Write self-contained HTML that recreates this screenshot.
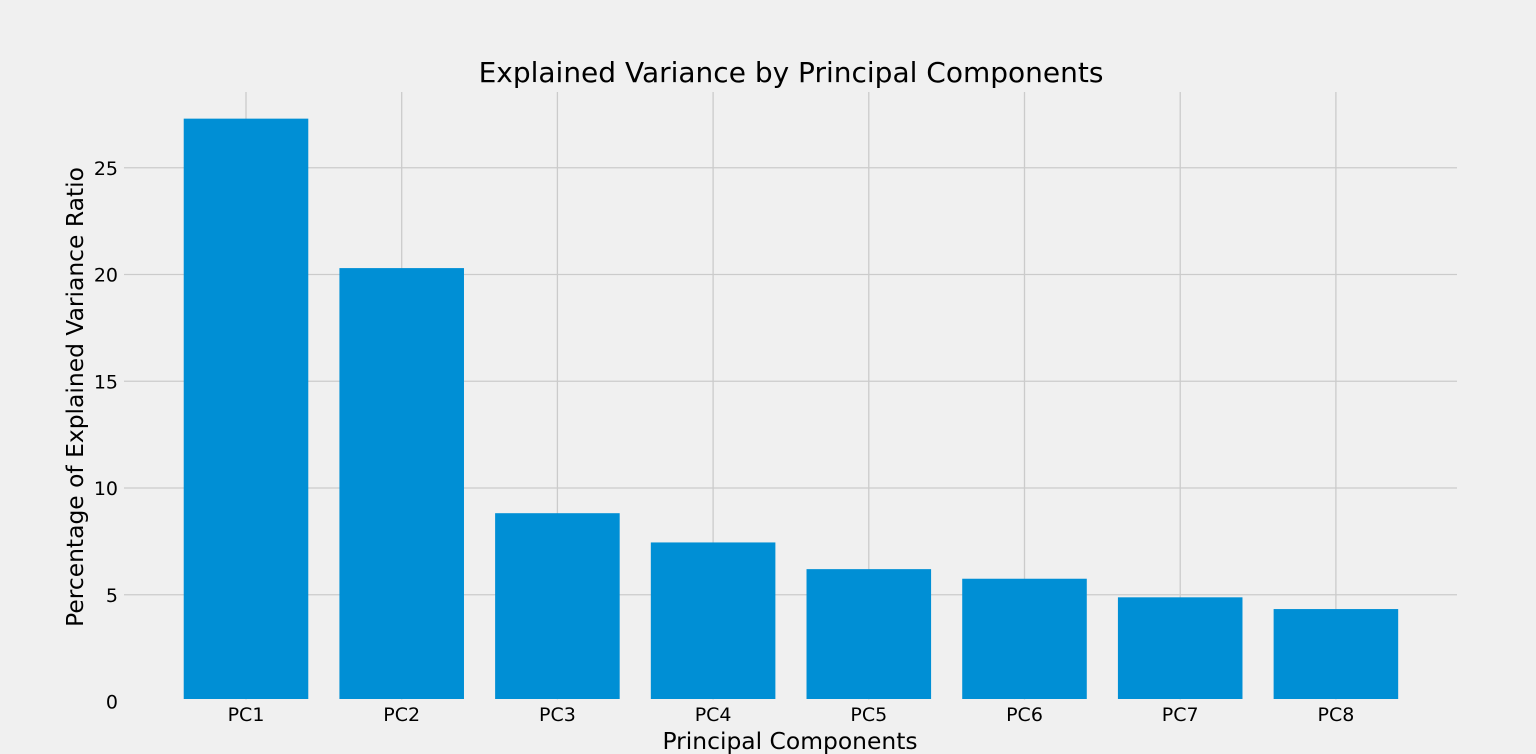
<!DOCTYPE html>
<html><head><meta charset="utf-8"><style>
html,body{margin:0;padding:0;background:#f0f0f0;}
svg{display:block;font-family:"DejaVu Sans","Liberation Sans",sans-serif;}
</style></head><body>
<svg id="chart" width="1536" height="754" viewBox="0 0 1536 754">
<rect x="0" y="0" width="1536" height="754" fill="#f0f0f0"/>
<g id="grid"></g>
<g id="bars"></g>
<g id="ticks"></g>
<text x="791" y="82" font-size="28" text-anchor="middle" fill="#000">Explained Variance by Principal Components</text>
<text x="790" y="749" font-size="23.4" text-anchor="middle" fill="#000">Principal Components</text>
<text transform="translate(83,397) rotate(-90)" font-size="23.4" text-anchor="middle" fill="#000">Percentage of Explained Variance Ratio</text>
</svg>
<script>
const categories = ["PC1","PC2","PC3","PC4","PC5","PC6","PC7","PC8"];
const values = [27.3, 20.3, 8.82, 7.45, 6.2, 5.75, 4.88, 4.33];
const yTicks = [0, 5, 10, 15, 20, 25];
const yTickLabels = ["0","5","10","15","20","25"];

const NS = "http://www.w3.org/2000/svg";
const plotLeft = 124, plotRight = 1457, plotTop = 92;
const y0px = 701.5, pxPerUnit = 21.35;
const step = 155.7, firstCenter = 246;
function yScale(v){ return y0px - v * pxPerUnit; }
function xScale(i){ return firstCenter + i * step; }
function mk(tag, attrs){ const e = document.createElementNS(NS, tag); for (const k in attrs) e.setAttribute(k, attrs[k]); return e; }

const grid = document.getElementById('grid');
const bars = document.getElementById('bars');
const ticks = document.getElementById('ticks');

yTicks.forEach((t, i) => {
  const y = yScale(t);
  if (t !== 0) {
    const l = mk('line', {x1: plotLeft, x2: plotRight, y1: y, y2: y, stroke: '#cbcbcb', 'stroke-width': 1.3});
    
    
    grid.appendChild(l);
  }
  const tx = mk('text', {x: 118, y: y + 7, 'font-size': 19, 'text-anchor': 'end', fill: '#000'});
  tx.textContent = yTickLabels[i];
  
  
  ticks.appendChild(tx);
});

categories.forEach((c, i) => {
  const x = xScale(i);
  const l = mk('line', {x1: x, x2: x, y1: plotTop, y2: y0px - 2, stroke: '#cbcbcb', 'stroke-width': 1.3});
  
  
  grid.appendChild(l);

  const w = step * 0.8;
  const top = yScale(values[i]);
  const r = mk('rect', {x: x - w / 2, y: top, width: w, height: (y0px - 2.5) - top, fill: '#008fd5'});
  
  
  bars.appendChild(r);

  const tx = mk('text', {x: x, y: 721, 'font-size': 19, 'text-anchor': 'middle', fill: '#000'});
  tx.textContent = c;
  
  
  ticks.appendChild(tx);
});
</script>
</body></html>
